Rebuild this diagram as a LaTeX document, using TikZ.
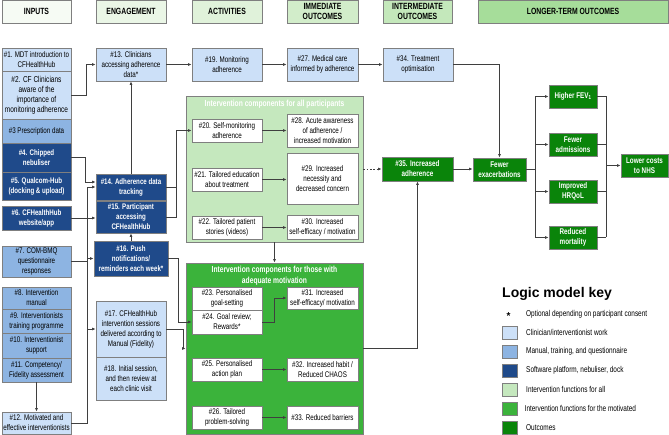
\documentclass[tikz,border=0pt]{standalone}
\usepackage{fontspec}
\setmainfont{Liberation Sans}
\newfontfamily\narrowsans[FakeStretch=0.76]{Liberation Sans}
\usetikzlibrary{arrows.meta,calc}
\definecolor{bordergray}{HTML}{7F7F7F}
\definecolor{linegray}{HTML}{3F3F3F}
\definecolor{lightblue}{HTML}{CCE0F8}
\definecolor{midblue}{HTML}{8DB4E2}
\definecolor{darkblue}{HTML}{1F4A8A}
\definecolor{lightgreen}{HTML}{C5E8BE}
\definecolor{brightgreen}{HTML}{3BB33B}
\definecolor{outgreen}{HTML}{0A840A}
\definecolor{hA}{HTML}{F6FBF4}
\definecolor{hB}{HTML}{EAF6E6}
\definecolor{hC}{HTML}{E0F2DA}
\definecolor{hD}{HTML}{D2EDCA}
\definecolor{hE}{HTML}{C4E8BB}
\definecolor{hF}{HTML}{A6DD9A}
\newcommand\mybox[7]{\node[#6,minimum width={#4pt-#2pt},minimum height={#5pt-#3pt}] (#1) at ({(#2+#4)/2},{(#3+#5)/2}) {#7};}
\tikzset{
  base/.style={draw=bordergray, line width=0.8pt, inner sep=0pt, align=center, font=\narrowsans\fontsize{8.2}{10}\selectfont},
  lb/.style={base, fill=lightblue},
  lbig/.style={base, fill=lightblue, font=\narrowsans\fontsize{8.6}{10}\selectfont},
  mb/.style={base, fill=midblue},
  db/.style={base, fill=darkblue, text=white, font=\narrowsans\bfseries\fontsize{8.1}{10}\selectfont},
  wb/.style={base, fill=white},
  og/.style={base, fill=outgreen, text=white, font=\narrowsans\bfseries\fontsize{8.3}{10}\selectfont},
  hdr/.style={base, font=\narrowsans\bfseries\fontsize{9}{10}\selectfont},
  cont/.style={draw=bordergray, line width=0.8pt},
  ctitle/.style={text=white, align=center, inner sep=0pt, font=\narrowsans\bfseries\fontsize{8.8}{10.5}\selectfont},
  sw/.style={draw=bordergray, line width=0.8pt, inner sep=0pt},
  keytext/.style={anchor=west, inner sep=0pt, font=\narrowsans\fontsize{8.5}{9}\selectfont},
  ln/.style={draw=linegray, line width=0.7pt},
  arr/.style={ln, -{Latex[length=3.5pt,width=3pt]}},
}
\begin{document}
\begin{tikzpicture}[x=1pt,y=-1pt]
\useasboundingbox (0,0) rectangle (669,435);
% headers
\mybox{hin}{2}{0}{71}{23}{hdr,fill=hA}{INPUTS}
\mybox{hen}{96}{0}{166}{23}{hdr,fill=hB}{ENGAGEMENT}
\mybox{hac}{192}{0}{262}{23}{hdr,fill=hC}{ACTIVITIES}
\mybox{him}{287}{0}{358}{23}{hdr,fill=hD}{IMMEDIATE\\OUTCOMES}
\mybox{hint}{383}{0}{452}{23}{hdr,fill=hE}{INTERMEDIATE\\OUTCOMES}
\mybox{hlo}{478}{0}{668}{23}{hdr,fill=hF}{LONGER-TERM OUTCOMES}
% inputs
\mybox{n1}{2}{48}{71}{71}{lb}{\#1. MDT introduction to\\CFHealthHub}
\mybox{n2}{2}{71}{71}{119}{lbig}{\#2. CF Clinicians\\aware of the\\importance of\\monitoring adherence}
\mybox{n3}{2}{119}{71}{143}{mb}{\#3 Prescription data}
\mybox{n4}{2}{143}{71}{172}{db}{\#4. Chipped\\nebuliser}
\mybox{n5}{2}{172}{71}{200}{db}{\#5. Qualcom-Hub\\(docking \& upload)}
\mybox{n6}{2}{206}{71}{230}{db}{\#6. CFHealthHub\\website/app}
\mybox{n7}{2}{246}{71}{277}{mb}{\#7. COM-BMQ\\questionnaire\\responses}
\mybox{n8}{2}{287}{71}{309}{mb}{\#8. Intervention\\manual}
\mybox{n9}{2}{309}{71}{333}{mb}{\#9. Interventionists\\training programme}
\mybox{n10}{2}{333}{71}{358}{mb}{\#10. Interventionist\\support}
\mybox{n11}{2}{358}{71}{382}{mb}{\#11. Competency/\\Fidelity assessment}
\mybox{n12}{2}{412}{71}{434}{lb}{\#12. Motivated and\\effective interventionists}
% engagement
\mybox{n13}{96}{48}{166}{81}{lb}{\#13. Clinicians\\accessing adherence\\data*}
\mybox{n14}{96}{174}{166}{200}{db}{\#14. Adherence data\\tracking}
\mybox{n15}{96}{201}{166}{233}{db}{\#15. Participant\\accessing\\CFHealthHub}
\mybox{n16}{94}{241}{168}{276}{db}{\#16. Push\\notifications/\\reminders each week*}
\mybox{n17}{96}{301}{166}{357}{lb}{\#17. CFHealthHub\\intervention sessions\\delivered according to\\Manual (Fidelity)}
\mybox{n18}{96}{357}{166}{400}{lb}{\#18. Initial session,\\and then review at\\each clinic visit}
% activities / outcomes top row
\mybox{n19}{192}{48}{262}{81}{lb}{\#19. Monitoring\\adherence}
\mybox{n27}{287}{48}{358}{81}{lb}{\#27. Medical care\\informed by adherence}
\mybox{n34}{383}{48}{453}{81}{lb}{\#34. Treatment\\optimisation}
% container A
\mybox{contA}{186}{96}{363}{242}{cont,fill=lightgreen}{}
\node[ctitle] (tA) at (274.5,104) {Intervention components for all participants};
\mybox{n20}{192}{119}{262}{142}{wb}{\#20. Self-monitoring\\adherence}
\mybox{n28}{287}{114}{358}{147}{wb}{\#28. Acute awareness\\of adherence /\\increased motivation}
\mybox{n21}{192}{168}{262}{191}{wb}{\#21. Tailored education\\about treatment}
\mybox{n29}{287}{153}{358}{204}{wb}{\#29. Increased\\necessity and\\decreased concern}
\mybox{n22}{192}{216}{262}{239}{wb}{\#22. Tailored patient\\stories (videos)}
\mybox{n30}{287}{215}{358}{239}{wb}{\#30. Increased\\self-efficacy / motivation}
% container B
\mybox{contB}{186}{263}{363}{434}{cont,fill=brightgreen}{}
\node[ctitle] (tB) at (274.5,275.5) {Intervention components for those with\\adequate motivation};
\mybox{n23}{192}{287}{262}{310}{wb}{\#23. Personalised\\goal-setting}
\mybox{n24}{192}{310}{262}{334}{wb}{\#24. Goal review;\\Rewards*}
\mybox{n31}{287}{287}{358}{309}{wb}{\#31. Increased\\self-efficacy/ motivation}
\mybox{n25}{192}{358}{262}{381}{wb}{\#25. Personalised\\action plan}
\mybox{n32}{287}{358}{358}{381}{wb}{\#32. Increased habit /\\Reduced CHAOS}
\mybox{n26}{192}{406}{262}{429}{wb}{\#26. Tailored\\problem-solving}
\mybox{n33}{287}{406}{358}{429}{wb}{\#33. Reduced barriers}
% outcomes
\mybox{n35}{382}{157}{453}{181}{og}{\#35. Increased\\adherence}
\mybox{nfe}{473}{158}{526}{181}{og}{Fewer\\exacerbations}
\mybox{nfev}{549}{85}{597}{108}{og}{Higher FEV\textsubscript{1}}
\mybox{nadm}{549}{133}{597}{156}{og}{Fewer\\admissions}
\mybox{nhrq}{549}{180}{597}{203}{og}{Improved\\HRQoL}
\mybox{nmor}{549}{226}{597}{249}{og}{Reduced\\mortality}
\mybox{nnhs}{621}{154}{668}{177}{og}{Lower costs\\to NHS}
% connectors
\draw[arr] (n2.east) -- ++(15,0) |- (n13.west);
\draw[arr] (n13) -- (n19);
\draw[arr] (n19) -- (n27);
\draw[arr] (n27) -- (n34);
\draw[arr] (n34.east) -| (nfe.north);
\draw[arr] (n14.north) -- (n13.south);
\draw[arr] (n4.east) -- ++(14,0) |- ([yshift=5pt]n14.west);
\draw[arr] (n12.east) -- ++(16,0) coordinate (b12) |- (n14.west);
\draw[arr] (b12 |- n16.west) -- (n16.west);
\draw[arr] (b12 |- n17.west) -- (n17.west);
\draw[ln] (n7.east) -- (b12 |- n7.east);
\draw[arr] (n6.east) -- (n15.west |- n6.east);
\draw[arr] (n16.north) -- (n15.south);
\draw[arr] (n14.east) -- ++(10,0) coordinate (b14) |- (n20.west);
\draw[ln] (n15.east) -- (b14 |- n15.east) -- (b14);
\draw[arr] (n16.east) -- ++(10,0) |- (n24.west);
\draw[arr] (n17.east) -- ++(17,0) |- (contB.west);
\draw[arr] (n20) -- (n28);
\draw[arr] (n21.east) -- (n29.west |- n21.east);
\draw[arr] (n22.east) -- (n30.west |- n22.east);
\draw[arr, dash pattern=on 1.5pt off 1.8pt] (contA.east |- n35.west) -- (n35.west);
\draw[arr] (contA.south) -- (contB.north);
\draw[arr] (n24.east) -- ++(12,0) |- (n31.west);
\draw[arr] (n25) -- (n32);
\draw[arr] (n26) -- (n33);
\draw[arr] (contB.east) -| (n35.south);
\draw[arr] (n11.south) -- (n12.north);
\draw[arr] (n35.east) -- (nfe.west |- n35.east);
\draw[ln] (nfe.east) -- ++(9,0) coordinate (bfe);
\draw[ln] (bfe |- nfev.west) -- (bfe |- nmor.west);
\draw[arr] (bfe |- nfev.west) -- (nfev.west);
\draw[arr] (bfe |- nadm.west) -- (nadm.west);
\draw[arr] (bfe |- nhrq.west) -- (nhrq.west);
\draw[arr] (bfe |- nmor.west) -- (nmor.west);
\coordinate (bo) at ($(nfev.east)+(9,0)$);
\draw[ln] (nfev.east) -- (bo |- nfev.east);
\draw[ln] (nadm.east) -- (bo |- nadm.east);
\draw[ln] (nhrq.east) -- (bo |- nhrq.east);
\draw[ln] (nmor.east) -- (bo |- nmor.east);
\draw[ln] (bo |- nfev.east) -- (bo |- nmor.east);
\draw[arr] (bo |- nnhs.west) -- (nnhs.west);
% key
\node[anchor=west, inner sep=0pt, font=\bfseries\fontsize{14}{16}\selectfont] (ktitle) at (502,294) {Logic model key};
\node[inner sep=0pt, font=\bfseries\fontsize{10}{10}\selectfont] (kstar) at (508.5,316) {*};
\node[keytext] (kt0) at (526,314.5) {Optional depending on participant consent};
\mybox{k1}{502}{326}{517}{339}{sw,fill=lightblue}{}
\mybox{k2}{502}{345}{517}{358}{sw,fill=midblue}{}
\mybox{k3}{502}{364}{517}{377}{sw,fill=darkblue}{}
\mybox{k4}{502}{383}{517}{396}{sw,fill=lightgreen}{}
\mybox{k5}{502}{402}{517}{415}{sw,fill=brightgreen}{}
\mybox{k6}{502}{421}{517}{434}{sw,fill=outgreen}{}
\node[keytext] (kt1) at (526,332.5) {Clinician/interventionist work};
\node[keytext] (kt2) at (526,351.5) {Manual, training, and questionnaire};
\node[keytext] (kt3) at (526,370.5) {Software platform, nebuliser, dock};
\node[keytext] (kt4) at (526,389.5) {Intervention functions for all};
\node[keytext] (kt5) at (524.5,408.5) {Intervention functions for the motivated};
\node[keytext] (kt6) at (526,427.5) {Outcomes};
\end{tikzpicture}
\end{document}
